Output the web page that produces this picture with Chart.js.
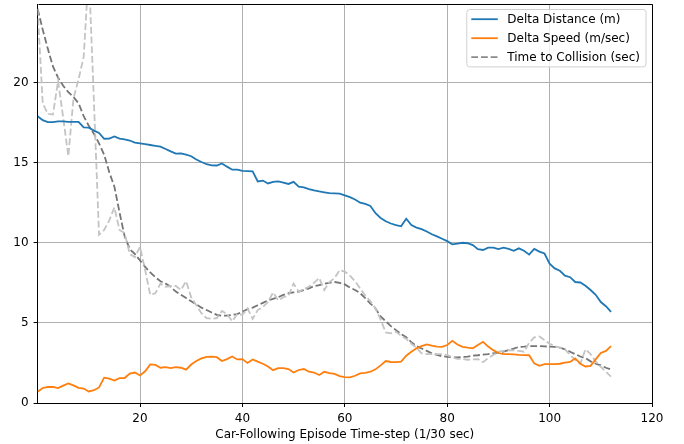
<!DOCTYPE html>
<html>
<head>
<meta charset="utf-8">
<script src="https://cdn.jsdelivr.net/npm/chart.js"></script>
<style>
  html, body { margin: 0; padding: 0; background: #ffffff; }
  canvas { display: block; }
</style>
</head>
<body>
<canvas id="chart" width="684" height="444" style="width:684px;height:444px"></canvas>
<script>
// Car-following episode, one value per time-step (1/30 sec), steps 0..112
const deltaDistance = [
  17.9, 17.65, 17.53, 17.53, 17.58, 17.57, 17.55, 17.55, 17.55, 17.2,
  17.18, 17.0, 16.85, 16.49, 16.5, 16.64, 16.5, 16.45, 16.38, 16.25,
  16.2, 16.15, 16.1, 16.05, 16.0, 15.85, 15.7, 15.56, 15.58, 15.5,
  15.4, 15.2, 15.04, 14.9, 14.83, 14.82, 14.95, 14.75, 14.56, 14.56,
  14.48, 14.47, 14.45, 13.83, 13.88, 13.7, 13.8, 13.83, 13.75, 13.67,
  13.8, 13.5, 13.45, 13.35, 13.27, 13.2, 13.15, 13.1, 13.08, 13.06,
  12.96, 12.85, 12.7, 12.5, 12.42, 12.3, 11.84, 11.55, 11.34, 11.2,
  11.1, 11.03, 11.5, 11.1, 10.95, 10.85, 10.7, 10.53, 10.4, 10.25,
  10.1, 9.9, 9.95, 10.0, 9.97, 9.85, 9.6, 9.55, 9.7, 9.7,
  9.6, 9.7, 9.62, 9.5, 9.65, 9.5, 9.26, 9.62, 9.45, 9.33,
  8.7, 8.4, 8.25, 7.95, 7.85, 7.55, 7.52, 7.32, 7.05, 6.75,
  6.3, 6.04, 5.69
];

const deltaSpeed = [
  0.7, 0.93, 1.0, 1.0, 0.93, 1.08, 1.22, 1.1, 0.95, 0.9,
  0.72, 0.8, 0.97, 1.58, 1.52, 1.4, 1.55, 1.56, 1.83, 1.9,
  1.72, 1.98, 2.41, 2.38, 2.2, 2.24, 2.18, 2.24, 2.2, 2.08,
  2.4, 2.62, 2.78, 2.88, 2.9, 2.86, 2.62, 2.74, 2.9, 2.72,
  2.74, 2.5, 2.72, 2.58, 2.45, 2.28, 2.05, 2.18, 2.18, 2.12,
  1.9, 2.06, 2.12, 1.95, 1.9, 1.75, 1.95, 1.87, 1.82, 1.68,
  1.62, 1.6, 1.7, 1.85, 1.88, 1.95, 2.1, 2.35, 2.62, 2.56,
  2.55, 2.58, 2.95, 3.2, 3.41, 3.55, 3.66, 3.58, 3.52, 3.5,
  3.62, 3.88, 3.65, 3.5, 3.45, 3.41, 3.62, 3.82, 3.52, 3.3,
  3.12, 3.05, 3.05, 3.03, 3.0, 2.99, 2.98, 2.47, 2.32, 2.43,
  2.43, 2.43, 2.45, 2.52, 2.56, 2.78, 2.45, 2.28, 2.32, 2.72,
  3.12, 3.25, 3.55
];

// Raw time-to-collision per step (noisy, unlabelled)
const ttcRaw = [
  24.6, 18.7, 18.05, 18.0, 20.1, 17.8, 15.4, 19.0, 20.2, 21.6,
  27.0, 18.8, 10.5, 10.8, 11.4, 12.2, 10.8, 10.6, 9.3, 9.1,
  9.74, 8.3, 6.75, 6.85, 7.45, 7.25, 7.3, 7.3, 7.05, 7.6,
  6.6, 6.1, 5.6, 5.3, 5.25, 5.3, 5.75, 5.55, 5.1, 5.55,
  5.5, 5.9, 5.25, 5.8, 6.0, 6.3, 6.9, 6.4, 6.6, 6.7,
  7.45, 6.95, 7.1, 7.25, 7.5, 7.8, 7.05, 7.55, 7.8, 8.3,
  8.2, 7.95, 7.6, 7.15, 6.7, 6.35, 5.9, 5.2, 4.4, 4.35,
  4.45, 4.2, 4.0, 3.7, 3.45, 3.1, 3.05, 3.05, 3.05, 3.05,
  3.0, 2.85, 2.75, 2.75, 2.7, 2.72, 2.74, 2.55, 2.8, 3.0,
  3.2, 3.25, 3.3, 3.28, 3.25, 3.2, 3.75, 4.1, 4.15, 3.93,
  3.7, 3.55, 3.45, 3.35, 3.0, 2.7, 2.45, 3.35, 3.05, 2.6,
  2.25, 1.95, 1.65
];

// Smoothed time-to-collision
const ttcSmooth = [
  24.6, 23.3, 22.1, 21.0, 20.3, 19.8, 19.4, 19.1, 18.7, 17.9,
  17.3, 16.8, 16.2, 15.5, 14.4, 13.5, 11.9, 10.4, 9.6, 9.3,
  8.9, 8.5, 8.15, 7.85, 7.6, 7.45, 7.25, 6.95, 6.75, 6.55,
  6.35, 6.15, 5.95, 5.8, 5.65, 5.5, 5.45, 5.45, 5.5, 5.55,
  5.7, 5.85, 5.95, 6.1, 6.25, 6.4, 6.5, 6.6, 6.75, 6.85,
  6.9, 6.95, 7.05, 7.15, 7.3, 7.35, 7.45, 7.5, 7.55, 7.5,
  7.4, 7.2, 7.05, 6.85, 6.55, 6.2, 5.9, 5.4, 5.1, 4.8,
  4.55, 4.3, 4.1, 3.8, 3.55, 3.4, 3.25, 3.1, 3.0, 2.92,
  2.88, 2.85, 2.85, 2.88, 2.9, 2.95, 2.98, 3.02, 3.05, 3.1,
  3.15, 3.2, 3.3, 3.4, 3.5, 3.52, 3.55, 3.55, 3.55, 3.53,
  3.52, 3.5, 3.45, 3.35, 3.2, 3.05, 2.9, 2.8, 2.6, 2.45,
  2.35, 2.2, 2.1
];

const xTickValues = [20, 40, 60, 80, 100, 120];
const yTickValues = [0, 5, 10, 15, 20];

const FONT = "'DejaVu Sans', 'Liberation Sans', sans-serif";
const asPoints = (values) => values.map((v, i) => ({ x: i, y: v }));

// Outer frame of the axes (top and right sides; left/bottom come from the scales)
const axesFrame = {
  id: 'axesFrame',
  afterDatasetsDraw(chart) {
    const { ctx, chartArea: a } = chart;
    ctx.save();
    ctx.strokeStyle = '#000000';
    ctx.lineWidth = 1;
    ctx.beginPath();
    ctx.moveTo(Math.round(a.left) + 0.5, Math.round(a.top) + 0.5);
    ctx.lineTo(Math.round(a.right) + 0.5, Math.round(a.top) + 0.5);
    ctx.lineTo(Math.round(a.right) + 0.5, Math.round(a.bottom) + 0.5);
    ctx.stroke();
    ctx.restore();
  }
};

// Framed legend in the upper-right corner of the plot area
const cornerLegend = {
  id: 'cornerLegend',
  afterDraw(chart) {
    const { ctx, chartArea: a } = chart;
    const items = chart.data.datasets.filter(d => d.label);
    ctx.save();
    ctx.font = '12px ' + FONT;
    const textW = Math.max(...items.map(d => ctx.measureText(d.label).width));
    const padL = 4.5, handle = 26.5, gap = 9.5, padR = 6, rowH = 19, padT = 9.7;
    const w = padL + handle + gap + textW + padR;
    const h = padT * 2 + rowH * (items.length - 1);
    const right = a.right - 6, left = right - w, top = a.top + 5.5;
    const r = 3;
    ctx.beginPath();
    ctx.moveTo(left + r, top);
    ctx.lineTo(left + w - r, top);
    ctx.quadraticCurveTo(left + w, top, left + w, top + r);
    ctx.lineTo(left + w, top + h - r);
    ctx.quadraticCurveTo(left + w, top + h, left + w - r, top + h);
    ctx.lineTo(left + r, top + h);
    ctx.quadraticCurveTo(left, top + h, left, top + h - r);
    ctx.lineTo(left, top + r);
    ctx.quadraticCurveTo(left, top, left + r, top);
    ctx.closePath();
    ctx.fillStyle = 'rgba(255,255,255,0.8)';
    ctx.fill();
    ctx.strokeStyle = '#d0d0d0';
    ctx.lineWidth = 1;
    ctx.stroke();

    items.forEach((d, i) => {
      const y = top + padT + i * rowH;
      ctx.save();
      ctx.strokeStyle = d.legendColor || d.borderColor;
      ctx.lineWidth = d.borderWidth;
      ctx.setLineDash(d.borderDash || []);
      ctx.beginPath();
      ctx.moveTo(left + padL, y);
      ctx.lineTo(left + padL + handle, y);
      ctx.stroke();
      ctx.restore();
      ctx.fillStyle = '#000000';
      ctx.textBaseline = 'middle';
      ctx.textAlign = 'left';
      ctx.fillText(d.label, left + padL + handle + gap, y + 0.5);
    });
    ctx.restore();
  }
};

const lineDefaults = { pointRadius: 0, pointHoverRadius: 0, tension: 0, fill: false, borderWidth: 1.8 };

new Chart(document.getElementById('chart'), {
  type: 'line',
  data: {
    datasets: [
      Object.assign({ label: 'Delta Distance (m)', data: asPoints(deltaDistance), borderColor: '#1f77b4' }, lineDefaults),
      Object.assign({ label: 'Delta Speed (m/sec)', data: asPoints(deltaSpeed), borderColor: '#ff7f0e' }, lineDefaults),
      Object.assign({ label: '', data: asPoints(ttcRaw), borderColor: '#c4c4c4', borderDash: [6.8, 2.9] }, lineDefaults),
      Object.assign({ label: 'Time to Collision (sec)', data: asPoints(ttcSmooth), borderColor: '#757575', legendColor: '#8a8a8a', borderDash: [6.8, 2.9] }, lineDefaults)
    ]
  },
  options: {
    responsive: false,
    animation: false,
    devicePixelRatio: 1,
    layout: { padding: { top: 4, right: 32, bottom: 0, left: 0 } },
    plugins: { legend: { display: false }, tooltip: { enabled: false } },
    scales: {
      x: {
        type: 'linear',
        min: 0,
        max: 120,
        afterBuildTicks(scale) { scale.ticks = xTickValues.map(v => ({ value: v })); },
        afterFit(scale) {
          scale.height = 41;
          scale.paddingLeft = 0; scale.paddingRight = 0;
        },
        ticks: { color: '#000000', font: { family: FONT, size: 12 }, padding: 5, maxRotation: 0, autoSkip: false },
        grid: { color: '#b0b0b0', lineWidth: 1, tickColor: '#000000', tickLength: 4, drawTicks: true },
        border: { display: true, color: '#000000', width: 1 },
        title: {
          display: true,
          text: 'Car-Following Episode Time-step (1/30 sec)',
          color: '#000000',
          font: { family: FONT, size: 12 },
          padding: { top: 0, bottom: 2 }
        }
      },
      y: {
        type: 'linear',
        min: 0,
        max: 24.9,
        afterBuildTicks(scale) { scale.ticks = yTickValues.map(v => ({ value: v })); },
        afterFit(scale) {
          scale.width = 37.6;
          scale.paddingTop = 0; scale.paddingBottom = 0;
        },
        ticks: { color: '#000000', font: { family: FONT, size: 12 }, padding: 5, autoSkip: false },
        grid: { color: '#b0b0b0', lineWidth: 1, tickColor: '#000000', tickLength: 4, drawTicks: true },
        border: { display: true, color: '#000000', width: 1 }
      }
    }
  },
  plugins: [axesFrame, cornerLegend]
});
</script>
</body>
</html>
